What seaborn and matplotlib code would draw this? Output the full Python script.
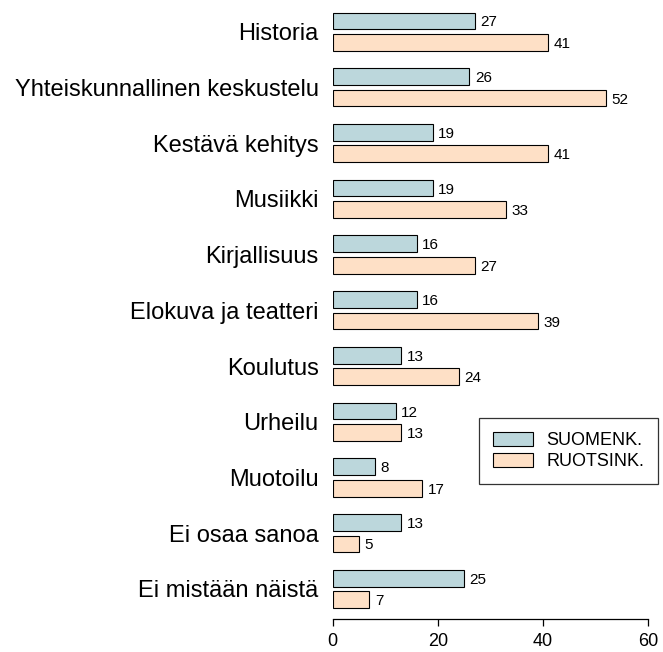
import matplotlib
matplotlib.use("Agg")
import matplotlib.pyplot as plt
from matplotlib.patches import Patch
import pandas as pd
import seaborn as sns

categories = [
    "Historia",
    "Yhteiskunnallinen keskustelu",
    "Kestävä kehitys",
    "Musiikki",
    "Kirjallisuus",
    "Elokuva ja teatteri",
    "Koulutus",
    "Urheilu",
    "Muotoilu",
    "Ei osaa sanoa",
    "Ei mistään näistä",
]
suomenk = [27, 26, 19, 19, 16, 16, 13, 12, 8, 13, 25]
ruotsink = [41, 52, 41, 33, 27, 39, 24, 13, 17, 5, 7]
groups = ["SUOMENK.", "RUOTSINK."]
colors = ["#bcd7dc", "#fee0c6"]
x_ticks = [0, 20, 40, 60]

sns.set_style("white")
plt.rcParams["font.family"] = ["Liberation Sans", "DejaVu Sans"]
plt.rcParams["text.color"] = "black"
plt.rcParams["xtick.color"] = "black"
plt.rcParams["ytick.color"] = "black"
plt.rcParams["axes.labelcolor"] = "black"

df = pd.DataFrame({
    "category": categories * 2,
    "value": suomenk + ruotsink,
    "group": [groups[0]] * len(categories) + [groups[1]] * len(categories),
})

fig = plt.figure(figsize=(6.63, 6.52), dpi=100)
ax = fig.add_axes([332.5 / 663, 33 / 652, (648.3 - 332.5) / 663, (651 - 33) / 652])

sns.barplot(
    data=df, y="category", x="value", hue="group", order=categories,
    hue_order=groups, palette=colors, saturation=1, orient="h",
    width=0.77, gap=0.22, edgecolor="black", linewidth=0.8,
    legend=False, ax=ax,
)

# value labels just right of each bar end
for container in ax.containers:
    texts = ax.bar_label(container, fmt="%d", padding=4, fontsize=11, color="black")
    for t in texts:
        t.set_verticalalignment("center_baseline")

ax.set_xlim(0, 60)
ax.set_ylim(len(categories) - 1 + 0.54, -0.55)
ax.set_xticks(x_ticks)
ax.set_xlabel("")
ax.set_ylabel("")
for side in ("left", "top", "right"):
    ax.spines[side].set_visible(False)
ax.spines["bottom"].set_bounds(0, 60)
ax.spines["bottom"].set_linewidth(0.9)
ax.spines["bottom"].set_color("black")
ax.tick_params(axis="x", direction="out", length=5, width=0.9, pad=5,
               labelsize=13, bottom=True, colors="black")
ax.tick_params(axis="y", length=0, pad=10, labelsize=17, colors="black")

handles = [Patch(facecolor=c, edgecolor="black", linewidth=0.8) for c in colors]
leg = fig.legend(
    handles, groups, loc="upper left", bbox_to_anchor=(479.3 / 663, 1 - 418.3 / 652),
    bbox_transform=fig.transFigure, borderaxespad=0, frameon=True, fancybox=False,
    edgecolor="black", fontsize=13, handlelength=2.2, handleheight=0.85,
    handletextpad=0.75, labelspacing=0.2, borderpad=0.75,
)
leg.get_frame().set_linewidth(0.9)

fig.savefig("out.png", dpi=100)
